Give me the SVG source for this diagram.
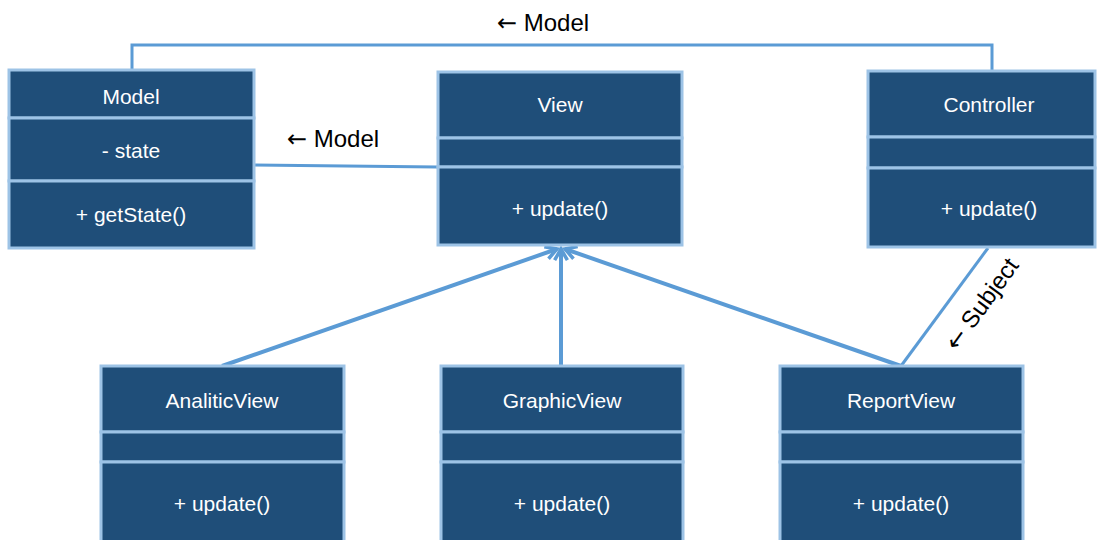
<svg xmlns="http://www.w3.org/2000/svg" width="1103" height="540" viewBox="0 0 1103 540">
<defs>
<style>
.box{fill:#1f4e79;stroke:#9dc3e6;stroke-width:3}
.t{font-family:"Liberation Sans",Arial,sans-serif;font-size:21px;fill:#ffffff;text-anchor:middle}
.lbl{font-family:"Liberation Sans",Arial,sans-serif;font-size:24px;fill:#000000}
.arr{font-family:"DejaVu Sans",sans-serif}
.ln{fill:none;stroke:#5b9bd5;stroke-width:3}
.gen{fill:none;stroke:#5b9bd5;stroke-width:4}
</style>
<marker id="ah" viewBox="0 0 10 10" refX="8" refY="5" markerWidth="4" markerHeight="4" orient="auto" markerUnits="strokeWidth">
<path d="M1,1 L8,5 L1,9" fill="none" stroke="#5b9bd5" stroke-width="2.2"/>
</marker>
</defs>
<rect width="1103" height="540" fill="#ffffff"/>
<g id="connectors">
<polyline class="ln" points="132,70 132,45 992,45 992,71"/>
<line class="ln" x1="254" y1="165" x2="437" y2="167"/>
<line class="gen" x1="222" y1="366" x2="557" y2="249" marker-end="url(#ah)"/>
<line class="gen" x1="561" y1="366" x2="561" y2="249" marker-end="url(#ah)"/>
<line class="gen" x1="901" y1="366" x2="565" y2="249" marker-end="url(#ah)"/>
<line class="ln" x1="988" y1="248" x2="901" y2="366"/>
</g>
<g id="label-model-top"><text class="lbl" x="497" y="31"><tspan class="arr">←</tspan> Model</text></g>
<g id="label-model-mid"><text class="lbl" x="287" y="147"><tspan class="arr">←</tspan> Model</text></g>
<g id="label-subject"><text class="lbl" x="0" y="0" transform="translate(957,352) rotate(-54)"><tspan class="arr">←</tspan> Subject</text></g>
<g id="model">
<rect class="box" x="9" y="70" width="245" height="48"/>
<rect class="box" x="9" y="118" width="245" height="63"/>
<rect class="box" x="9" y="181" width="245" height="67"/>
<text class="t" x="131" y="104">Model</text>
<text class="t" x="131" y="158">- state</text>
<text class="t" x="131" y="222">+ getState()</text>
</g>
<g id="view">
<rect class="box" x="438" y="72" width="244" height="66"/>
<rect class="box" x="438" y="138" width="244" height="29"/>
<rect class="box" x="438" y="167" width="244" height="78"/>
<text class="t" x="560" y="112">View</text>
<text class="t" x="560" y="216">+ update()</text>
</g>
<g id="controller">
<rect class="box" x="868" y="71" width="227" height="66"/>
<rect class="box" x="868" y="137" width="227" height="31"/>
<rect class="box" x="868" y="168" width="227" height="79"/>
<text class="t" x="989" y="112">Controller</text>
<text class="t" x="989" y="216">+ update()</text>
</g>
<g id="analiticview">
<rect class="box" x="101" y="366" width="243" height="66"/>
<rect class="box" x="101" y="432" width="243" height="30"/>
<rect class="box" x="101" y="462" width="243" height="85"/>
<text class="t" x="222" y="408">AnaliticView</text>
<text class="t" x="222" y="511">+ update()</text>
</g>
<g id="graphicview">
<rect class="box" x="441" y="366" width="242" height="66"/>
<rect class="box" x="441" y="432" width="242" height="30"/>
<rect class="box" x="441" y="462" width="242" height="85"/>
<text class="t" x="562" y="408">GraphicView</text>
<text class="t" x="562" y="511">+ update()</text>
</g>
<g id="reportview">
<rect class="box" x="780" y="366" width="243" height="66"/>
<rect class="box" x="780" y="432" width="243" height="30"/>
<rect class="box" x="780" y="462" width="243" height="85"/>
<text class="t" x="901" y="408">ReportView</text>
<text class="t" x="901" y="511">+ update()</text>
</g>
</svg>
